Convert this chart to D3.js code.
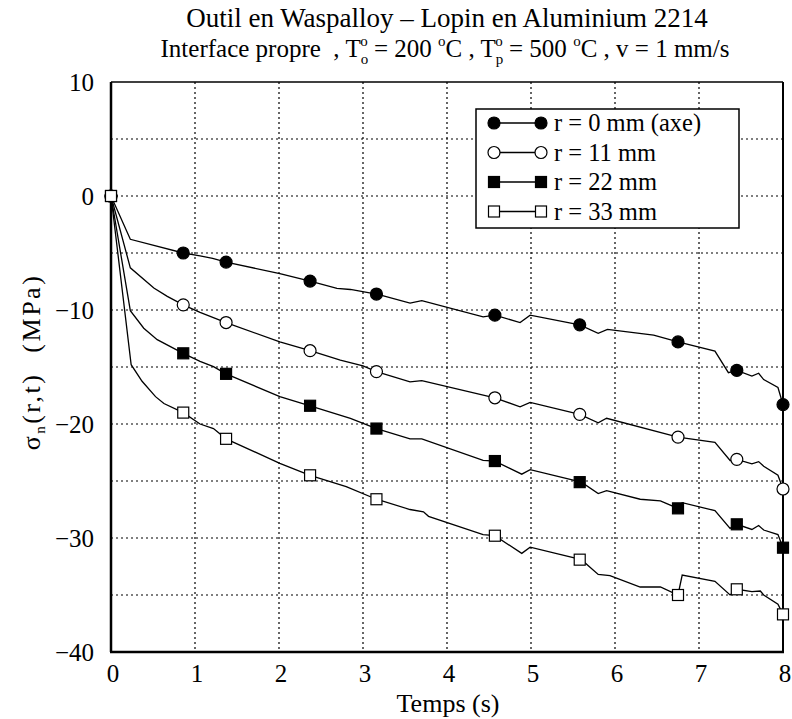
<!DOCTYPE html>
<html>
<head>
<meta charset="utf-8">
<script src="https://cdn.jsdelivr.net/npm/d3@7"></script>
<style>
  body { margin: 0; background: #fff; }
  text { font-family: "Liberation Serif", "DejaVu Serif", serif; fill: #000; white-space: pre; }
</style>
</head>
<body>
<div id="canvas"></div>
<script>
// curves: [time (s), sigma_n (MPa)]
const lineR0 = [[0,0],[0.23,-3.8],[0.86,-5.0],[1.06,-5.26],[1.21,-5.47],[1.37,-5.8],[2.01,-6.8],[2.37,-7.46],[2.69,-8.1],[2.85,-8.2],[3.16,-8.6],[3.2,-8.68],[3.56,-9.4],[3.7,-9.18],[4.43,-10.6],[4.57,-10.45],[4.87,-11.1],[4.99,-10.45],[5.58,-11.3],[5.8,-12.05],[5.91,-11.7],[6.46,-12.2],[6.75,-12.8],[7.19,-13.6],[7.35,-15.5],[7.45,-15.3],[7.63,-15.8],[7.71,-15.55],[7.77,-16.1],[7.94,-16.8],[8.0,-18.3]];
const lineR11 = [[0,0],[0.23,-6.3],[0.51,-8.07],[0.67,-8.8],[0.86,-9.55],[1.06,-10.2],[1.37,-11.1],[2.01,-12.8],[2.37,-13.57],[2.73,-14.4],[3.0,-14.9],[3.16,-15.4],[3.56,-16.3],[3.7,-16.2],[4.57,-17.7],[4.87,-18.5],[4.99,-18.1],[5.58,-19.15],[5.8,-19.9],[5.9,-19.5],[6.75,-21.15],[7.19,-21.6],[7.37,-23.2],[7.45,-23.1],[7.63,-23.5],[7.71,-23.3],[7.77,-23.7],[7.94,-24.5],[8.0,-25.7]];
const lineR22 = [[0,0],[0.23,-10.06],[0.39,-11.6],[0.55,-12.6],[0.86,-13.8],[1.06,-14.5],[1.22,-14.97],[1.37,-15.6],[2.01,-17.6],[2.37,-18.4],[2.85,-19.5],[3.16,-20.4],[3.56,-21.3],[3.7,-21.3],[4.43,-23.2],[4.57,-23.25],[4.89,-24.4],[4.99,-24.0],[5.6,-25.1],[5.8,-26.1],[5.9,-25.85],[6.3,-26.6],[6.54,-26.75],[6.75,-27.4],[6.8,-26.9],[7.19,-27.6],[7.37,-29.15],[7.45,-28.8],[7.63,-29.25],[7.71,-28.9],[7.77,-29.3],[7.94,-29.7],[8.0,-30.85]];
const lineR33 = [[0,0],[0.24,-14.8],[0.37,-16.25],[0.53,-17.6],[0.63,-18.2],[0.86,-19.0],[1.06,-20.0],[1.22,-20.4],[1.37,-21.3],[2.01,-23.45],[2.37,-24.5],[2.8,-25.5],[3.16,-26.6],[3.56,-27.5],[3.72,-27.7],[3.78,-28.1],[4.43,-29.7],[4.57,-29.8],[4.89,-31.35],[4.99,-30.8],[5.6,-31.9],[5.8,-33.2],[5.94,-33.3],[6.3,-34.3],[6.54,-34.3],[6.75,-35.0],[6.8,-33.25],[7.19,-33.8],[7.37,-35.0],[7.45,-34.5],[7.63,-34.7],[7.73,-34.65],[7.77,-35.0],[7.94,-35.8],[8.0,-36.7]];

// marker positions
const markerTimes = [0, 0.86, 1.37, 2.37, 3.16, 4.57, 5.58, 6.75, 7.45, 8.0];
const markR0  = [0, -5.0, -5.8, -7.46, -8.6, -10.45, -11.3, -12.8, -15.3, -18.3];
const markR11 = [0, -9.55, -11.1, -13.57, -15.4, -17.7, -19.15, -21.15, -23.1, -25.7];
const markR22 = [0, -13.8, -15.6, -18.4, -20.4, -23.25, -25.1, -27.4, -28.8, -30.85];
const markR33 = [0, -19.0, -21.3, -24.5, -26.6, -29.8, -31.9, -35.0, -34.5, -36.7];

const seriesNames = ['r = 0 mm (axe)', 'r = 11 mm', 'r = 22 mm', 'r = 33 mm'];
const xTicks = [0, 1, 2, 3, 4, 5, 6, 7, 8];
const yTicks = [10, 0, -10, -20, -30, -40];
const yGrid = [5, 0, -5, -10, -15, -20, -25, -30, -35];

const width = 792, height = 719;
const margin = { top: 82, left: 111, right: 9, bottom: 67 };

const svg = d3.select('#canvas').append('svg')
    .attr('width', width)
    .attr('height', height);

const xScale = d3.scaleLinear()
    .domain([0, 8])
    .range([margin.left, width - margin.right]);

const yScale = d3.scaleLinear()
    .domain([-40, 10])
    .range([height - margin.bottom, margin.top]);

// dotted grid
const grid = svg.append('g').attr('id', 'grid')
    .attr('stroke', '#000').attr('stroke-width', 1.2).attr('stroke-dasharray', '2,3');
grid.selectAll('line.v')
    .data(xTicks.slice(1, -1))
    .join('line')
    .attr('x1', d => xScale(d)).attr('x2', d => xScale(d))
    .attr('y1', yScale(10)).attr('y2', yScale(-40));
grid.selectAll('line.h')
    .data(yGrid)
    .join('line')
    .attr('x1', xScale(0)).attr('x2', xScale(8))
    .attr('y1', d => yScale(d)).attr('y2', d => yScale(d));

// frame
svg.append('line').attr('x1', xScale(0)).attr('x2', xScale(8)).attr('y1', yScale(10)).attr('y2', yScale(10))
    .attr('stroke', '#000').attr('stroke-width', 1.5);
svg.append('line').attr('x1', xScale(8)).attr('x2', xScale(8)).attr('y1', yScale(10)).attr('y2', yScale(-40))
    .attr('stroke', '#000').attr('stroke-width', 2);
svg.append('line').attr('x1', xScale(0) - 1).attr('x2', xScale(8) + 1).attr('y1', yScale(-40)).attr('y2', yScale(-40))
    .attr('stroke', '#000').attr('stroke-width', 2.5);
svg.append('line').attr('x1', xScale(0)).attr('x2', xScale(0)).attr('y1', yScale(10)).attr('y2', yScale(-40))
    .attr('stroke', '#000').attr('stroke-width', 2.5);

// tick labels
svg.append('g').selectAll('text')
    .data(xTicks)
    .join('text')
    .attr('x', d => xScale(d) + 2)
    .attr('y', yScale(-40) + 30)
    .attr('text-anchor', 'middle')
    .attr('font-size', 25)
    .text(d => d);

svg.append('g').selectAll('text')
    .data(yTicks)
    .join('text')
    .attr('x', xScale(0) - 17)
    .attr('y', d => yScale(d) + 9)
    .attr('text-anchor', 'end')
    .attr('font-size', 25)
    .text(d => d < 0 ? '\u2212' + Math.abs(d) : d);

// axis titles
svg.append('text')
    .attr('x', 448).attr('y', 712)
    .attr('text-anchor', 'middle')
    .attr('font-size', 26)
    .text('Temps (s)');

const yl = svg.append('text')
    .attr('transform', `translate(40,362) rotate(-90)`)
    .attr('text-anchor', 'middle')
    .attr('font-size', 26)
    .attr('letter-spacing', 2.5);
yl.append('tspan').text('\u03c3');
yl.append('tspan').attr('font-size', 15).attr('dy', 5).text('n');
yl.append('tspan').attr('dy', -5).text('(r,t)');
yl.append('tspan').attr('dx', 20).text('(MPa)');

// title
svg.append('text')
    .attr('x', 447).attr('y', 27)
    .attr('text-anchor', 'middle')
    .attr('font-size', 27)
    .text('Outil en Waspalloy \u2013 Lopin en Aluminium 2214');

const t2 = svg.append('text')
    .attr('x', 445).attr('y', 57)
    .attr('text-anchor', 'middle')
    .attr('font-size', 25);
t2.append('tspan').text('Interface propre  , T');
t2.append('tspan').attr('font-size', 15).attr('dy', 7).text('o');
t2.append('tspan').attr('font-size', 15).attr('dx', -8).attr('dy', -18).text('o');
t2.append('tspan').attr('dy', 11).text(' = 200 ');
t2.append('tspan').attr('font-size', 15).attr('dy', -11).text('o');
t2.append('tspan').attr('dy', 11).text('C , T');
t2.append('tspan').attr('font-size', 15).attr('dy', 7).text('p');
t2.append('tspan').attr('font-size', 15).attr('dx', -8).attr('dy', -18).text('o');
t2.append('tspan').attr('dy', 11).text(' = 500 ');
t2.append('tspan').attr('font-size', 15).attr('dy', -11).text('o');
t2.append('tspan').attr('dy', 11).text('C , v = 1 mm/s');

// curves
const lineGen = d3.line()
    .x(d => xScale(d[0]))
    .y(d => yScale(d[1]));

const allLines = [lineR0, lineR11, lineR22, lineR33];
const allMarks = [markR0, markR11, markR22, markR33];
const markerType = [
    { shape: 'circle', fill: '#000' },
    { shape: 'circle', fill: '#fff' },
    { shape: 'square', fill: '#000' },
    { shape: 'square', fill: '#fff' }
];

const dataRegion = svg.append('g').attr('id', 'data');

dataRegion.selectAll('path')
    .data(allLines)
    .join('path')
    .attr('d', lineGen)
    .attr('fill', 'none')
    .attr('stroke', '#000')
    .attr('stroke-width', 1.3);

function drawMarker(g, x, y, type) {
    if (type.shape === 'circle') {
        g.append('circle').attr('cx', x).attr('cy', y).attr('r', 6)
            .attr('fill', type.fill).attr('stroke', '#000').attr('stroke-width', 1.2);
    } else {
        g.append('rect').attr('x', x - 5.5).attr('y', y - 5.5).attr('width', 11).attr('height', 11)
            .attr('fill', type.fill).attr('stroke', '#000').attr('stroke-width', 1.2);
    }
}

allMarks.forEach((vals, i) => {
    const g = dataRegion.append('g');
    vals.forEach((v, j) => drawMarker(g, xScale(markerTimes[j]), yScale(v), markerType[i]));
});

// legend
const legend = svg.append('g').attr('id', 'legend');
legend.append('rect')
    .attr('x', 476).attr('y', 109).attr('width', 263).attr('height', 119)
    .attr('fill', '#fff').attr('stroke', '#000').attr('stroke-width', 1.5);

seriesNames.forEach((name, i) => {
    const y = 123 + i * 29.5;
    legend.append('line').attr('x1', 494).attr('x2', 541).attr('y1', y).attr('y2', y)
        .attr('stroke', '#000').attr('stroke-width', 1.3);
    drawMarker(legend, 494, y, markerType[i]);
    drawMarker(legend, 541, y, markerType[i]);
    legend.append('text')
        .attr('x', 554).attr('y', y + 8)
        .attr('font-size', 24.5)
        .text(name);
});
</script>
</body>
</html>
